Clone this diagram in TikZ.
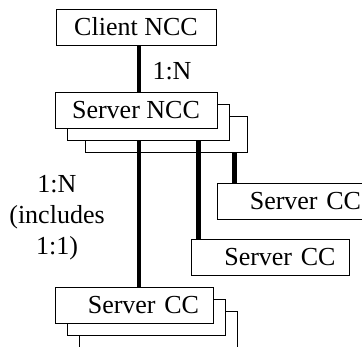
\documentclass[tikz,border=0pt]{standalone}
\usepackage{fontspec}
\setmainfont{Liberation Serif}
\usetikzlibrary{positioning}

\begin{document}
\begin{tikzpicture}[x=1pt, y=-1pt,
            box/.style={draw, fill=white, line width=1pt, minimum width=160pt,
                minimum height=36pt, inner sep=0pt, font=\fontsize{26}{31}\selectfont},
            ccbox/.style={box, minimum width=0pt, text width=130pt, align=right, inner xsep=14pt},
            link/.style={line width=4.5pt},
            lbl/.style={font=\fontsize{26}{31}\selectfont, align=center}
        ]
            \useasboundingbox (0,0) rectangle (362,346);
            \clip (0,0) rectangle (362,346);
            \def\nx{136} \def\ny{110.5} \def\cx{134} \def\cy{305.5}
            % client
            \node[box] (client) at (\nx,27) {Client NCC};
            % server NCC with its copies
            \node[box, minimum width=162pt] (srvncc2) at (\nx+30,\ny+23.5) {};
            \node[box, minimum width=162pt] (srvncc1) at (\nx+12,\ny+12) {};
            \node[box, minimum width=162pt] (srvncc) at (\nx,\ny) {Server NCC};
            % server CCs
            \node[ccbox] (cc3) at (296,201) {Server CC};
            \node[ccbox] (cc2) at (270.5,257.5) {Server CC};
            \node[ccbox, minimum height=40pt] (cc1c) at (\cx+24,\cy+26) {};
            \node[ccbox] (cc1b) at (\cx+12,\cy+11.5) {};
            \node[ccbox] (cc1) at (\cx,\cy) {Server CC};
            % links
            \draw[link] ([xshift=3pt]client.south) -- ([xshift=3pt]srvncc.north);
            \coordinate (d1) at ([xshift=5pt]cc1.north);
            \coordinate (d2) at ([xshift=7.5pt]cc2.north west);
            \coordinate (d3) at ([xshift=18pt]cc3.north west);
            \draw[link] (d1 |- srvncc1.south) -- (d1);
            \draw[link] (d2 |- srvncc1.south) -- (d2);
            \draw[link] (d3 |- srvncc2.south) -- (d3);
            % labels
            \node[lbl] (top) at (172,71) {1:N};
            \node[lbl] (side) at (57,218) {1:N\\(includes\\1:1)};
        \end{tikzpicture}
\end{document}
